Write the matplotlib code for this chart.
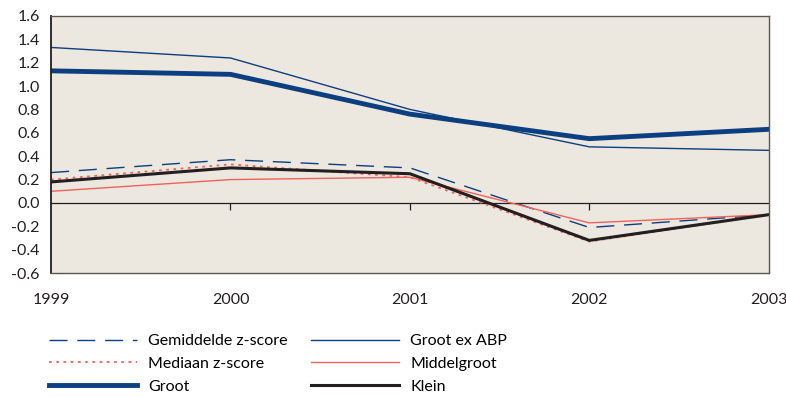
import matplotlib.pyplot as plt

plt.rcParams['font.family'] = ['Lato', 'DejaVu Sans']

years = [1999, 2000, 2001, 2002, 2003]
gemiddelde = [0.26, 0.37, 0.30, -0.21, -0.10]
mediaan = [0.20, 0.33, 0.22, -0.33, -0.10]
groot = [1.13, 1.10, 0.76, 0.55, 0.63]
groot_ex_abp = [1.33, 1.24, 0.80, 0.48, 0.45]
middelgroot = [0.10, 0.20, 0.22, -0.17, -0.10]
klein = [0.18, 0.30, 0.25, -0.32, -0.10]
yticks = [-0.6, -0.4, -0.2, 0.0, 0.2, 0.4, 0.6, 0.8, 1.0, 1.2, 1.4, 1.6]

navy = '#0b3f7f'
red = '#f0625a'
dark = '#231f20'

fig = plt.figure(figsize=(7.86, 3.97), dpi=100)
ax = fig.add_axes([0.065, 0.312, 0.913, 0.648])
ax.set_facecolor('#ede8df')

l1, = ax.plot(years, gemiddelde, color=navy, lw=1, dashes=(13, 7), label='Gemiddelde z-score')
l2, = ax.plot(years, mediaan, color=red, lw=1.3, dashes=(1.5, 2.5), label='Mediaan z-score')
l3, = ax.plot(years, groot, color=navy, lw=3.5, label='Groot')
l4, = ax.plot(years, groot_ex_abp, color=navy, lw=1, label='Groot ex ABP')
l5, = ax.plot(years, middelgroot, color=red, lw=1, label='Middelgroot')
l6, = ax.plot(years, klein, color=dark, lw=2.2, label='Klein')

ax.set_xlim(1999, 2003)
ax.set_ylim(-0.6, 1.6)
ax.set_yticks(yticks)
ax.set_yticklabels(['%.1f' % v for v in yticks])
ax.set_xticks(years)
ax.set_xticklabels([str(y) for y in years])
ax.tick_params(axis='x', length=0, pad=14, labelsize=11.5, colors='#231f20')
ax.tick_params(axis='y', length=0, pad=8, labelsize=11.5, colors='#231f20')

for s in ['top', 'right', 'bottom']:
    ax.spines[s].set_color('#5a5654')
    ax.spines[s].set_linewidth(1)
ax.spines['left'].set_color('#231f20')
ax.spines['left'].set_linewidth(1.3)

# zero line with tick marks
zero_pos = (0 - (-0.6)) / (1.6 - (-0.6))
sec = ax.secondary_xaxis(zero_pos)
sec.set_xticks(years[1:-1])
sec.set_xticklabels(['', '', ''])
sec.spines['bottom'].set_color('#231f20')
sec.spines['bottom'].set_linewidth(0.9)
sec.tick_params(axis='x', length=5, width=0.9, color='#231f20', direction='out')

handles = [l1, l2, l3, l4, l5, l6]
fig.legend(handles=handles, labels=[h.get_label() for h in handles],
           ncol=2, loc='upper left', bbox_to_anchor=(0.054, 0.175),
           frameon=False, fontsize=11.5, handlelength=5.5, handletextpad=0.7,
           columnspacing=1.48, labelspacing=0.55, borderaxespad=0)

fig.savefig('out.png', dpi=100)
